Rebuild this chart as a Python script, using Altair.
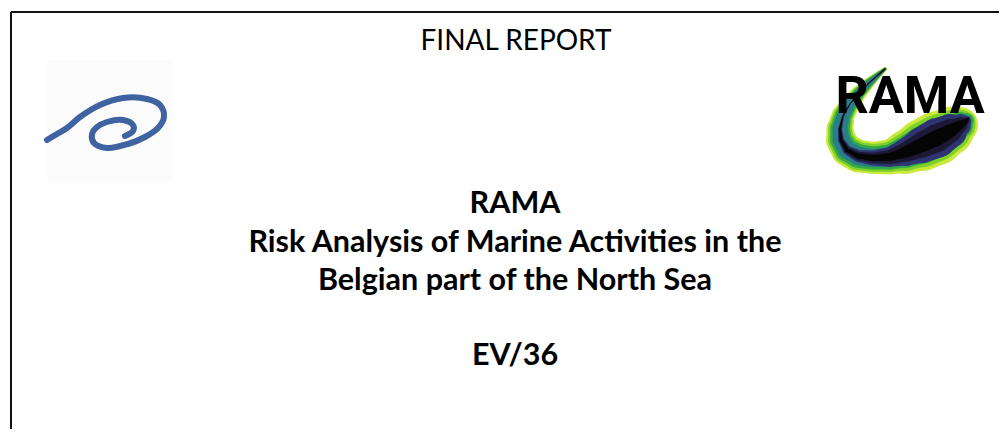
import altair as alt
import pandas as pd

# ---- data ----
title_lines = ["RAMA", "Risk Analysis of Marine Activities in the",
               "Belgian part of the North Sea", "EV/36"]
title_x = [515, 515, 515, 515]
title_y = [213, 252, 290, 365]
header_text = ["FINAL REPORT"]
header_x = [516]
header_y = [50]

border_x = [11, 11]
border_x2 = [999, 11]
border_y = [12, 12]
border_y2 = [12, 437]

swirl_x = [47, 57, 67, 80, 100, 123, 147, 160, 164, 158, 145, 128, 107, 94, 92, 97, 107, 123, 133, 133, 125]
swirl_y = [140, 134, 128, 117, 105, 98, 99, 105, 117, 128, 137, 144, 148, 143, 134, 127, 122, 120, 125, 131, 136]

blob_x = [885, 878, 869, 859, 850, 843, 840, 841, 847, 858, 873, 890, 906, 922, 937, 950, 960, 966, 969]
blob_y = [69, 75, 83, 93, 104, 116, 129, 140, 150, 156, 158, 157, 152, 145, 138, 131, 125, 121, 118]
blob_w = [4, 7, 11, 15, 19, 23, 27, 30, 32, 33, 32, 35, 44, 52, 54, 48, 36, 22, 8]
core_w = [0, 0, 0, 0, 1, 2, 4, 6, 9, 12, 15, 20, 28, 36, 40, 34, 22, 10, 2]
outer_layers = [1.0, 0.86, 0.72, 0.56]
outer_colors = ["#c9ea3c", "#7fd12a", "#33a846", "#2a7f86"]
core_layers = [1.0, 0.7, 0.4]
core_colors = ["#2e3472", "#1c1836", "#050505"]

logo_text = ["RAMA"]
logo_x = [910]
logo_y = [113]

# ---- scales mapping page pixels ----
W, H = 991, 421
xs = alt.Scale(domain=[8, 8 + W], range=[0, W])
ys = alt.Scale(domain=[8, 8 + H], range=[0, H])

def X(f):
    return alt.X(f, type="quantitative", scale=xs, axis=None)

def Y(f):
    return alt.Y(f, type="quantitative", scale=ys, axis=None)

border_df = pd.DataFrame({"x": border_x, "x2": border_x2, "y": border_y, "y2": border_y2})
border = alt.Chart(border_df).mark_rule(color="#111111", strokeWidth=2).encode(
    x=X("x"), x2="x2", y=Y("y"), y2="y2")

swirl_bg_df = pd.DataFrame({"x": [47], "x2": [173], "y": [60], "y2": [182]})
swirl_bg = alt.Chart(swirl_bg_df).mark_rect(color="#fbfbfc").encode(
    x=X("x"), x2="x2", y=Y("y"), y2="y2")

swirl_df = pd.DataFrame({"x": swirl_x, "y": swirl_y, "i": list(range(len(swirl_x)))})
swirl = alt.Chart(swirl_df).mark_line(
    color="#3f63a1", strokeWidth=6, strokeCap="round", strokeJoin="round",
    interpolate="catmull-rom").encode(x=X("x"), y=Y("y"), order="i:Q")

blob_df = pd.DataFrame({"x": blob_x, "y": blob_y, "w": blob_w, "c": core_w,
                        "i": list(range(len(blob_x)))})

def trail(src, k, color):
    return alt.Chart(blob_df).transform_calculate(
        s=f"datum.{src} * {k}").mark_trail(color=color).encode(
        x=X("x"), y=Y("y"), size=alt.Size("s:Q", scale=None), order="i:Q")

blob = alt.layer(
    *[trail("w", k, c) for k, c in zip(outer_layers, outer_colors)],
    *[trail("c", k, c) for k, c in zip(core_layers, core_colors)],
)

logo_df = pd.DataFrame({"t": logo_text, "x": logo_x, "y": logo_y})
logo = alt.Chart(logo_df).mark_text(
    font="Roboto", fontSize=52, fontWeight="bold", color="#000000",
    baseline="alphabetic", align="center").encode(x=X("x"), y=Y("y"), text="t:N")

header_df = pd.DataFrame({"t": header_text, "x": header_x, "y": header_y})
header = alt.Chart(header_df).mark_text(
    font="Lato", fontSize=28, color="#000000", baseline="alphabetic",
    align="center").encode(x=X("x"), y=Y("y"), text="t:N")

title_df = pd.DataFrame({"t": title_lines, "x": title_x, "y": title_y})
title = alt.Chart(title_df).mark_text(
    font="Lato", fontSize=30.5, fontWeight="bold", color="#000000",
    baseline="alphabetic", align="center").encode(x=X("x"), y=Y("y"), text="t:N")

chart = alt.layer(border, swirl_bg, swirl, blob, logo, header, title).properties(
    width=W, height=H, padding=0, autosize=alt.AutoSizeParams(type="none"),
    background="white"
).configure_view(stroke=None)

chart.save("out.html", embed_options={"renderer": "svg", "actions": False})
